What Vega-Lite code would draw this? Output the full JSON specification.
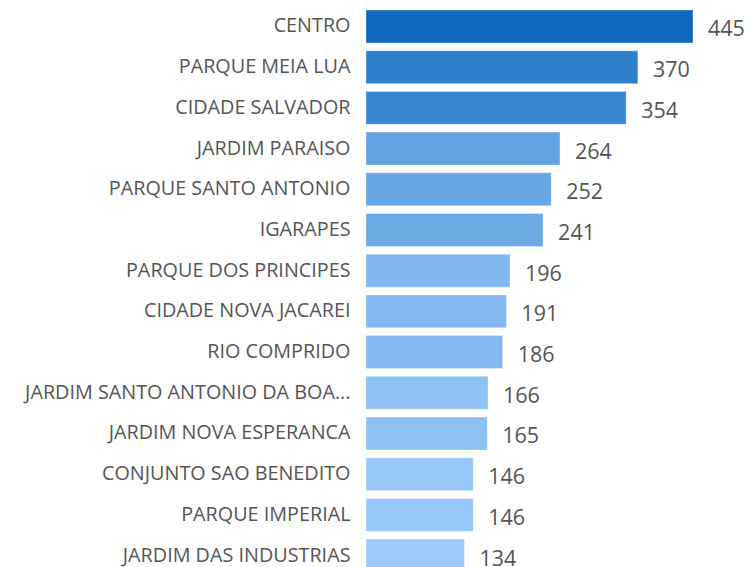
{
  "$schema": "https://vega.github.io/schema/vega-lite/v6.json",
  "autosize": "none",
  "width": 327,
  "height": {"step": 40.7},
  "padding": {"left": 366, "top": 10, "right": 55, "bottom": 0},
  "background": "#ffffff",
  "config": {"view": {"stroke": null}, "font": "Open Sans"},
  "data": {
    "values": [
      {"bairro": "CENTRO", "total": 445},
      {"bairro": "PARQUE MEIA LUA", "total": 370},
      {"bairro": "CIDADE SALVADOR", "total": 354},
      {"bairro": "JARDIM PARAISO", "total": 264},
      {"bairro": "PARQUE SANTO ANTONIO", "total": 252},
      {"bairro": "IGARAPES", "total": 241},
      {"bairro": "PARQUE DOS PRINCIPES", "total": 196},
      {"bairro": "CIDADE NOVA JACAREI", "total": 191},
      {"bairro": "RIO COMPRIDO", "total": 186},
      {"bairro": "JARDIM SANTO ANTONIO DA BOA...", "total": 166},
      {"bairro": "JARDIM NOVA ESPERANCA", "total": 165},
      {"bairro": "CONJUNTO SAO BENEDITO", "total": 146},
      {"bairro": "PARQUE IMPERIAL", "total": 146},
      {"bairro": "JARDIM DAS INDUSTRIAS", "total": 134}
    ]
  },
  "encoding": {
    "y": {
      "field": "bairro",
      "type": "nominal",
      "sort": null,
      "scale": {"paddingInner": 0.19, "paddingOuter": 0},
      "axis": {
        "title": null,
        "domain": false,
        "ticks": false,
        "labelPadding": 16,
        "labelFontSize": 19.8,
        "labelColor": "#555555",
        "labelLimit": 400
      }
    },
    "x": {
      "field": "total",
      "type": "quantitative",
      "scale": {"domain": [0, 445], "nice": false, "zero": true},
      "axis": null
    }
  },
  "layer": [
    {
      "mark": {"type": "bar", "stroke": "#ffffff", "strokeOpacity": 0.35, "strokeWidth": 1},
      "encoding": {
        "color": {
          "field": "total",
          "type": "quantitative",
          "scale": {"domain": [134, 445], "range": ["#9ccbf9", "#0f68bf"], "interpolate": "rgb"},
          "legend": null
        }
      }
    },
    {
      "mark": {"type": "text", "align": "left", "baseline": "middle", "dx": 15, "dy": 4, "fontSize": 21.5, "color": "#555555"},
      "encoding": {"text": {"field": "total", "type": "quantitative"}}
    }
  ]
}
